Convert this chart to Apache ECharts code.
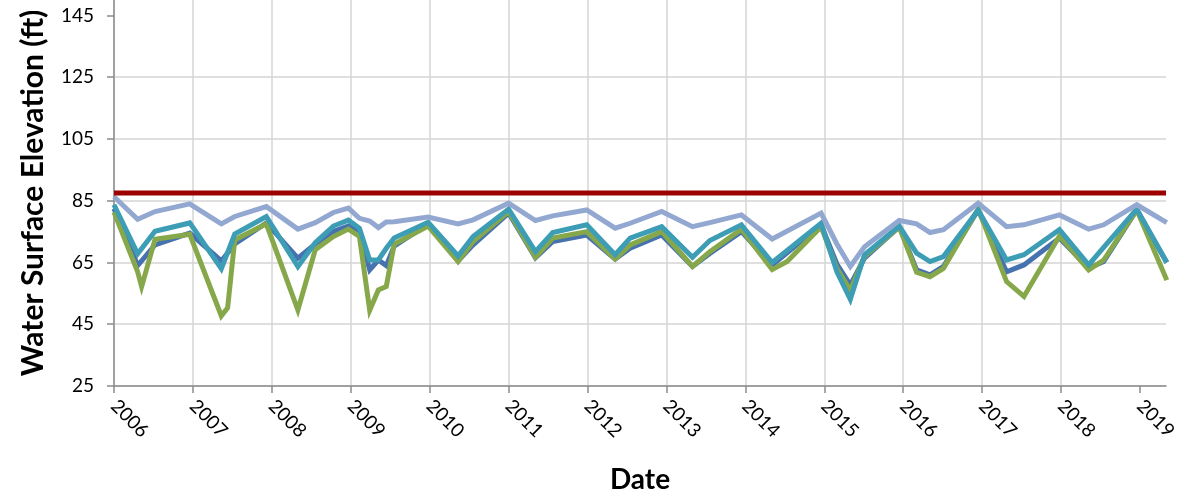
<!DOCTYPE html>
<html>
<head>
<meta charset="utf-8">
<script src="https://cdn.jsdelivr.net/npm/echarts@6/dist/echarts.min.js"></script>
<style>
html,body{margin:0;padding:0;background:#fff;}
#c{width:1198px;height:499px;}
</style>
</head>
<body>
<div id="c"></div>
<script>
// Decimal-year sample dates shared by all wells
var dates = [2006.00, 2006.30, 2006.35, 2006.52, 2006.96, 2007.36, 2007.44, 2007.53, 2007.93, 2008.33,
  2008.55, 2008.78, 2008.97, 2009.11, 2009.24, 2009.35, 2009.45, 2009.55, 2009.98, 2010.36,
  2010.55, 2011.00, 2011.34, 2011.56, 2011.99, 2012.35, 2012.54, 2012.94, 2013.33, 2013.55,
  2013.95, 2014.34, 2014.53, 2014.96, 2015.16, 2015.33, 2015.51, 2015.95, 2016.17, 2016.34,
  2016.51, 2016.95, 2017.31, 2017.53, 2017.98, 2018.35, 2018.54, 2018.96, 2019.34];

var darkBlue = [82.5, 64.0, null, 70.7, 74.5, 65.5, null, 71.0, 77.8, 66.4,
  71.0, 75.0, 76.8, 75.0, 62.6, 65.8, 64.0, 70.3, 77.5, 65.5,
  70.7, 81.0, 66.5, 71.8, 73.9, 66.1, 69.6, 73.9, 63.7, 67.9,
  75.0, 64.2, null, 77.2, 64.5, 57.7, 66.4, 76.6, 62.6, 61.0,
  63.7, 82.0, 62.0, 64.2, 72.9, 63.1, 65.3, 82.0, 65.0];

var green = [81.3, 62.0, 57.2, 72.5, 74.1, 47.7, 50.3, 72.3, 77.5, 49.6,
  69.1, 73.4, 75.8, 73.4, 49.5, 56.1, 57.2, 70.9, 76.8, 65.3,
  71.8, 81.5, 66.7, 72.9, 75.0, 66.1, 70.7, 75.0, 63.7, 68.5,
  75.8, 62.7, 65.3, 76.6, 63.0, 56.0, 67.0, 76.5, 61.8, 60.4,
  63.1, 82.3, 58.8, 54.0, 73.6, 62.6, 65.8, 82.0, 59.3];

var teal = [83.7, 67.8, null, 75.1, 77.8, 63.0, null, 74.2, 79.9, 63.7,
  71.4, 76.8, 78.7, 76.1, 65.8, 65.8, 69.6, 72.9, 78.0, 67.1,
  73.4, 82.3, 68.5, 74.7, 77.2, 67.5, 72.9, 76.6, 66.7, 72.1,
  77.2, 65.0, null, 77.7, 62.0, 53.1, 67.5, 76.8, 68.0, 65.3,
  66.9, 82.0, 65.8, 67.5, 75.6, 64.2, 69.9, 82.3, 65.0];

var lavender = [86.3, 79.0, null, 81.5, 84.0, 77.5, null, 79.9, 83.1, 75.8,
  77.9, 81.2, 82.6, 79.3, 78.4, 76.3, 78.1, 78.2, 79.7, 77.5,
  78.8, 84.2, 78.6, 80.1, 82.0, 76.1, 77.7, 81.5, 76.6, 77.9,
  80.4, 72.6, null, 81.0, 71.0, 63.7, 70.1, 78.6, 77.5, 74.7,
  75.6, 84.2, 76.6, 77.2, 80.4, 75.8, 77.2, 83.7, 77.9];

var redLevel = 87.5;
var xRange = [2006, 2019.33];
var yearTicks = [2006, 2007, 2008, 2009, 2010, 2011, 2012, 2013, 2014, 2015, 2016, 2017, 2018, 2019];
var yTicks = [25, 45, 65, 85, 105, 125, 145];

function pairs(vals) {
  var out = [];
  for (var i = 0; i < dates.length; i++) {
    if (vals[i] !== null) out.push([dates[i], vals[i]]);
  }
  return out;
}

var FONT = 'Lato';
var chart = echarts.init(document.getElementById('c'), null, {renderer: 'canvas'});

function lineSeries(name, data, color, width) {
  return {
    name: name, type: 'line', data: data, symbol: 'none', showSymbol: false,
    lineStyle: {color: color, width: width, join: 'miter', miterLimit: 6},
    itemStyle: {color: color},
    emphasis: {disabled: true},
    animation: false
  };
}

chart.setOption({
  animation: false,
  backgroundColor: '#ffffff',
  grid: {left: 114, right: 32, top: 0, bottom: 113},
  xAxis: {
    type: 'value', min: xRange[0], max: xRange[1], interval: 1,
    name: 'Date', nameLocation: 'middle', nameGap: 80,
    nameTextStyle: {fontFamily: FONT, fontWeight: 'bold', fontSize: 28, color: '#000'},
    axisLine: {show: true, lineStyle: {color: '#8c8c8c', width: 1.5}},
    axisTick: {show: true, length: 7, customValues: yearTicks, lineStyle: {color: '#8c8c8c', width: 1.5}},
    axisLabel: {
      customValues: yearTicks, rotate: -45, margin: 17,
      fontFamily: FONT, fontSize: 19, color: '#000',
      formatter: function (v) { return String(Math.round(v)); }
    },
    splitLine: {show: true, showMaxLine: false, lineStyle: {color: '#d4d4d4', width: 1.5}}
  },
  yAxis: {
    type: 'value', min: 25, max: 150, interval: 20,
    name: 'Water Surface Elevation (ft)', nameLocation: 'middle', nameRotate: 90, nameGap: 66,
    nameTextStyle: {fontFamily: FONT, fontWeight: 'bold', fontSize: 30, color: '#000'},
    axisLine: {show: true, lineStyle: {color: '#8c8c8c', width: 1.5}},
    axisTick: {show: true, length: 7, customValues: yTicks, lineStyle: {color: '#8c8c8c', width: 1.5}},
    axisLabel: {
      customValues: yTicks, margin: 20,
      fontFamily: FONT, fontSize: 19, color: '#000'
    },
    splitLine: {show: true, showMaxLine: false, lineStyle: {color: '#d4d4d4', width: 1.5}}
  },
  series: [
    lineSeries('Well A', pairs(darkBlue), '#4672b0', 5),
    lineSeries('Well B', pairs(green), '#86a84a', 5),
    lineSeries('Well C', pairs(teal), '#3d9db5', 5),
    lineSeries('Well D', pairs(lavender), '#93a8d0', 5),
    lineSeries('Threshold', [[xRange[0], redLevel], [xRange[1], redLevel]], '#9c0000', 5)
  ]
});
</script>
</body>
</html>
